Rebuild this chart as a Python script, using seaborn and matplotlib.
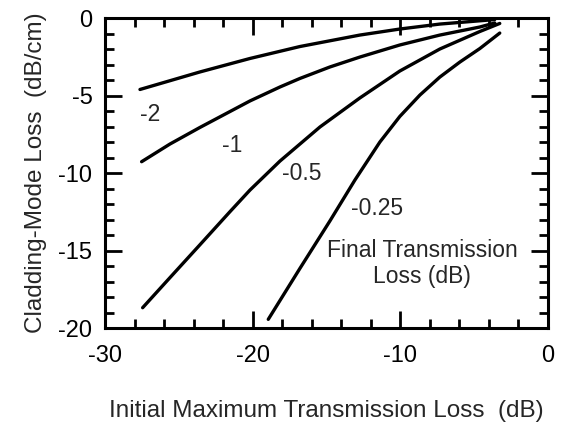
import matplotlib
matplotlib.use("Agg")
import matplotlib.pyplot as plt
import pandas as pd
import seaborn as sns
from matplotlib.ticker import MultipleLocator

# curves, one per final transmission loss (dB)
x_m2 = [-27.63, -23.57, -20.18, -16.8, -12.74, -10.03, -7.32, -3.6]
y_m2 = [-4.61, -3.48, -2.61, -1.84, -1.10, -0.71, -0.39, -0.10]
x_m1 = [-27.52, -25.6, -23.57, -20.18, -18.15, -16.8, -14.77, -12.74, -10.03, -7.32, -4.61, -3.6]
y_m1 = [-9.27, -8.13, -7.06, -5.35, -4.45, -3.9, -3.16, -2.52, -1.74, -1.10, -0.58, -0.32]
x_m05 = [-27.45, -25.6, -23.57, -21.54, -20.18, -18.15, -15.44, -12.74, -10.03, -7.32, -4.61, -3.26]
y_m05 = [-18.69, -16.75, -14.63, -12.5, -11.10, -9.23, -7.03, -5.16, -3.42, -2.0, -0.87, -0.35]
x_m025 = [-18.94, -16.8, -14.77, -13.07, -11.38, -10.03, -8.67, -7.32, -5.96, -4.61, -3.26]
y_m025 = [-19.44, -16.16, -13.10, -10.45, -8.0, -6.35, -4.97, -3.81, -2.84, -1.97, -0.97]

curve_labels = ["-2", "-1", "-0.5", "-0.25"]
label_x = [-26.95, -21.4, -16.7, -11.6]
label_y = [-6.2, -8.2, -10.05, -12.3]

frames = []
for name, xs, ys in zip(curve_labels, [x_m2, x_m1, x_m05, x_m025], [y_m2, y_m1, y_m05, y_m025]):
    frames.append(pd.DataFrame({"x": xs, "y": ys, "curve": name}))
df = pd.concat(frames, ignore_index=True)

sns.set_style("ticks")
plt.rcParams["font.family"] = ["Liberation Sans", "DejaVu Sans"]
plt.rcParams["axes.unicode_minus"] = False

fig = plt.figure(figsize=(5.66, 4.22), dpi=100)
ax = fig.add_axes([0.1855, 0.2227, 0.7825, 0.7346])

sns.lineplot(data=df, x="x", y="y", units="curve", estimator=None, sort=False,
             color="black", linewidth=2.4, ax=ax)
for ln in ax.lines:
    ln.set_solid_joinstyle("round")

for t, lx, ly in zip(curve_labels, label_x, label_y):
    ax.text(lx, ly, t, fontsize=16.5, ha="center", va="center")
ax.text(-8.5, -15.85, "Final Transmission\nLoss (dB)", fontsize=16.5,
        ha="center", va="center", linespacing=1.2)

ax.set_xlim(-30, 0)
ax.set_ylim(-20, 0)
ax.xaxis.set_major_locator(MultipleLocator(10))
ax.xaxis.set_minor_locator(MultipleLocator(2))
ax.yaxis.set_major_locator(MultipleLocator(5))
ax.yaxis.set_minor_locator(MultipleLocator(1))
ax.tick_params(which="both", direction="in", top=True, right=True, width=2, colors="black",
               labelsize=17)
ax.tick_params(axis="x", pad=12)
ax.tick_params(axis="y", pad=9)
ax.tick_params(which="major", length=12)
ax.tick_params(which="minor", length=6.5)
for s in ax.spines.values():
    s.set_linewidth(2.2)
    s.set_color("black")

ax.set_xlabel("Initial Maximum Transmission Loss  (dB)", fontsize=17.5, labelpad=24)
ax.set_ylabel("Cladding-Mode Loss  (dB/cm)", fontsize=17.5, labelpad=8)

fig.savefig("out.png", dpi=100)
